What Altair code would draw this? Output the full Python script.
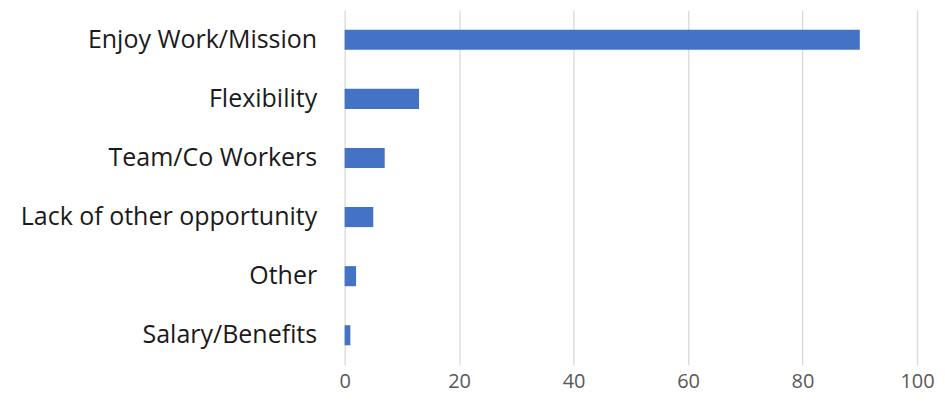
import altair as alt
import pandas as pd

categories = ["Enjoy Work/Mission", "Flexibility", "Team/Co Workers",
              "Lack of other opportunity", "Other", "Salary/Benefits"]
values = [90, 13, 7, 5, 2, 1]
x_ticks = [0, 20, 40, 60, 80, 100]

df = pd.DataFrame({"reason": categories, "count": values})

chart = alt.Chart(df).mark_bar(color="#4472C4").encode(
    x=alt.X("count:Q",
            scale=alt.Scale(domain=[0, 100], nice=False),
            axis=alt.Axis(values=x_ticks, title=None, grid=True, gridColor="#D9D9D9",
                          gridWidth=1.3, domain=False, ticks=False, labelFlush=False,
                          labelFont="Open Sans", labelFontSize=20, labelColor="#595959",
                          labelPadding=7)),
    y=alt.Y("reason:N", sort=categories,
            scale=alt.Scale(paddingInner=0.66, paddingOuter=0.33),
            axis=alt.Axis(title=None, domain=False, ticks=False,
                          labelFont="Open Sans", labelFontSize=25, labelColor="#1a1a1a",
                          labelPadding=28, labelLimit=400)),
).properties(
    width=573, height=355,
    autosize=alt.AutoSizeParams(type="none"),
    padding={"left": 337, "top": 2, "right": 20, "bottom": 30},
).configure_view(stroke=None)

chart.save("out.html", embed_options={"renderer": "svg", "actions": False})
